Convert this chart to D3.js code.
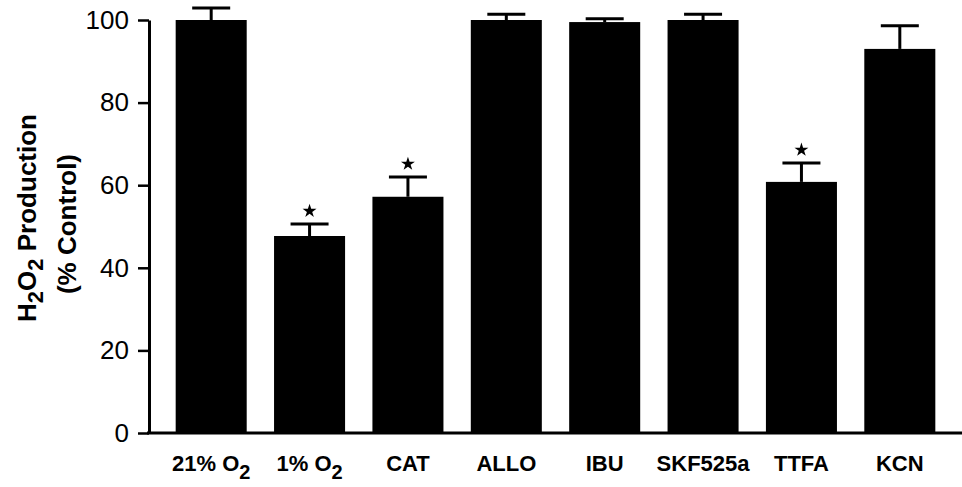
<!DOCTYPE html>
<meta charset="utf-8">
<style>
  body { margin: 0; background: #fff; }
  svg { font-family: "Liberation Sans", Arial, sans-serif; }
</style>
<script src="https://d3js.org/d3.v7.min.js"></script>
<div id="chart"></div>
<script>

// data
var groups = ["21% O2", "1% O2", "CAT", "ALLO", "IBU", "SKF525a", "TTFA", "KCN"];
var values = [100, 47.7, 57.2, 100, 99.5, 100, 60.8, 93];
var errors = [2.9, 2.9, 4.8, 1.4, 0.8, 1.4, 4.6, 5.6];
var signif = [false, true, true, false, false, false, true, false];
var yTicks = [0, 20, 40, 60, 80, 100];

var width = 962, height = 487;

var svg = d3.select("#chart")
  .append("svg")
    .attr("width", width)
    .attr("height", height);

// scales
var x = d3.scaleBand()
  .domain(groups)
  .range([162, 949])
  .paddingInner(0.278)
  .paddingOuter(0.139);

var y = d3.scaleLinear()
  .domain([0, 100])
  .range([433, 20]);

// bars
svg.selectAll("rect.bar")
  .data(groups)
  .enter()
  .append("rect")
    .attr("class", "bar")
    .attr("x", function(d) { return x(d); })
    .attr("y", function(d, i) { return y(values[i]); })
    .attr("width", x.bandwidth())
    .attr("height", function(d, i) { return y(0) - y(values[i]); })
    .attr("fill", "#000");

// error bars (upper only)
var eb = svg.selectAll("g.err")
  .data(groups)
  .enter()
  .append("g")
    .attr("class", "err")
    .attr("stroke", "#000")
    .attr("stroke-width", 3);

eb.append("line")
  .attr("x1", function(d) { return x(d) + x.bandwidth() / 2; })
  .attr("x2", function(d) { return x(d) + x.bandwidth() / 2; })
  .attr("y1", function(d, i) { return y(values[i]); })
  .attr("y2", function(d, i) { return y(values[i] + errors[i]); });

eb.append("line")
  .attr("x1", function(d) { return x(d) + x.bandwidth() / 2 - 19; })
  .attr("x2", function(d) { return x(d) + x.bandwidth() / 2 + 19; })
  .attr("y1", function(d, i) { return y(values[i] + errors[i]); })
  .attr("y2", function(d, i) { return y(values[i] + errors[i]); });

// significance stars
svg.selectAll("path.star")
  .data(groups.filter(function(d, i) { return signif[i]; }))
  .enter()
  .append("path")
    .attr("class", "star")
    .attr("d", d3.symbol().type(d3.symbolStar).size(60))
    .attr("transform", function(d) {
      var i = groups.indexOf(d);
      return "translate(" + (x(d) + x.bandwidth() / 2) + "," + (y(values[i] + errors[i]) - 13) + ")";
    })
    .attr("fill", "#000");

// y axis
var yAxis = svg.append("g")
  .attr("transform", "translate(149,0)")
  .call(d3.axisLeft(y).tickValues(yTicks).tickSize(11).tickSizeOuter(0).tickPadding(9));

yAxis.select(".domain").attr("stroke-width", 3);
yAxis.selectAll(".tick line").attr("stroke-width", 2.5);
yAxis.selectAll(".tick text")
  .attr("font-size", 26)
  .attr("font-family", "'Liberation Sans', Arial, sans-serif")
  .attr("fill", "#000");

// x baseline
svg.append("line")
  .attr("x1", 147)
  .attr("x2", width)
  .attr("y1", y(0))
  .attr("y2", y(0))
  .attr("stroke", "#000")
  .attr("stroke-width", 3);

// x labels, with O2 written as subscript
var xAxis = svg.append("g")
  .attr("transform", "translate(0," + y(0) + ")")
  .call(d3.axisBottom(x).tickSize(0));

xAxis.select(".domain").remove();
xAxis.selectAll(".tick text")
  .attr("y", 38)
  .attr("dy", 0)
  .attr("font-size", 22)
  .attr("font-weight", "bold")
  .attr("font-family", "'Liberation Sans', Arial, sans-serif")
  .attr("fill", "#000")
  .each(function(d) {
    var t = d3.select(this);
    var m = d.match(/^(.*O)(2)$/);
    if (!m) return;
    t.text(null);
    t.append("tspan").text(m[1]);
    t.append("tspan").attr("dy", 8).attr("font-size", 20).text(m[2]);
  });

// y title
var title = svg.append("text")
  .attr("transform", "translate(36,218) rotate(-90)")
  .attr("text-anchor", "middle")
  .attr("font-size", 26)
  .attr("font-weight", "bold");

title.append("tspan").text("H");
title.append("tspan").attr("dy", 7).attr("font-size", 22).text("2");
title.append("tspan").attr("dy", -7).text("O");
title.append("tspan").attr("dy", 7).attr("font-size", 22).text("2");
title.append("tspan").attr("dy", -7).text(" Production");

svg.append("text")
  .attr("transform", "translate(76,224) rotate(-90)")
  .attr("text-anchor", "middle")
  .attr("font-size", 26)
  .attr("font-weight", "bold")
  .text("(% Control)");

</script>
